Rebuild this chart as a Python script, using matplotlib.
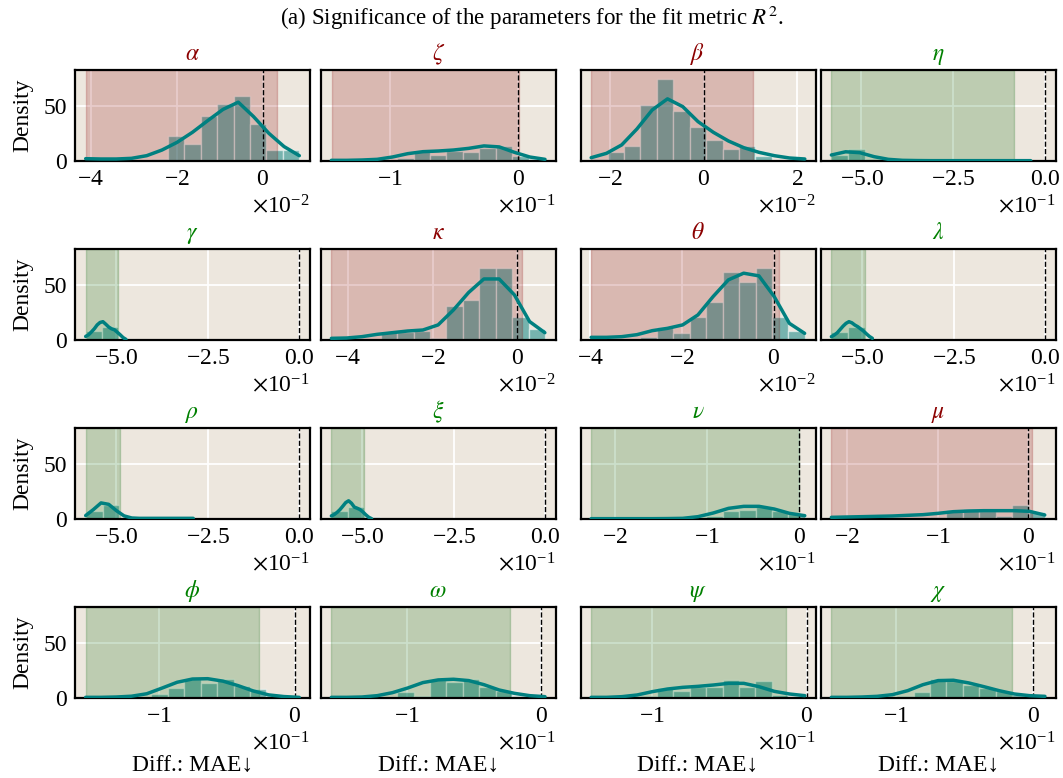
import matplotlib.pyplot as plt
import numpy as np

plt.rcParams['font.family'] = ['Liberation Serif', 'DejaVu Serif']
plt.rcParams['mathtext.fontset'] = 'stix'
plt.rcParams['font.size'] = 17

# parameters, one panel each (row by row)
params = [r'$\alpha$', r'$\zeta$', r'$\beta$', r'$\eta$',
          r'$\gamma$', r'$\kappa$', r'$\theta$', r'$\lambda$',
          r'$\rho$', r'$\xi$', r'$\nu$', r'$\mu$',
          r'$\phi$', r'$\omega$', r'$\psi$', r'$\chi$']
# red = significant and worse, green = significant and better
verdict = ['red', 'red', 'red', 'green',
           'green', 'red', 'red', 'green',
           'green', 'green', 'green', 'red',
           'green', 'green', 'green', 'green']
# x values below are given in units of 10**exponent
exponent = [-2, -1, -2, -1,
            -1, -2, -2, -1,
            -1, -1, -1, -1,
            -1, -1, -1, -1]

# histogram: first bin edge, bin width, bar densities
bin_start = [-4.12, -1.456, -2.41, -5.82,
             -5.84, -4.39, -3.98, -5.84,
             -5.84, -5.85, -2.26, -2.17,
             -1.54, -1.56, -1.39, -1.467]
bin_width = [0.3823, 0.128, 0.3515, 0.4525,
             0.445, 0.388, 0.358, 0.465,
             0.46, 0.445, 0.1785, 0.181,
             0.121, 0.1223, 0.106, 0.1195]
bar_heights = [
    [1.5, 0.5, 0.5, 0.5, 1.8, 22.9, 15.1, 41.0, 51.2, 59.0, 33.1, 9.6, 9.6],
    [0.3, 0.2, 0.5, 1.0, 3.0, 9.0, 5.4, 9.0, 8.4, 12.0, 13.9, 4.8, 2.0],
    [1.5, 7.8, 13.9, 50.6, 73.8, 45.2, 31.0, 19.0, 10.5, 13.9, 4.8, 0.5, 0.8],
    [5.4, 10.8, 1.5, 0.5, 0.3, 0.3, 0.2, 0.2, 0.2, 0.2, 0.2, 0.3],
    [7.9, 12.0, 0.8],
    [0.6, 0.3, 0.8, 6.9, 6.9, 8.1, 2.1, 31.0, 36.0, 64.8, 64.8, 20.5, 9.6],
    [0.3, 0.3, 0.5, 2.4, 12.0, 6.0, 21.0, 34.6, 61.7, 52.7, 64.8, 20.5, 8.4],
    [7.5, 12.0, 0.5],
    [6.9, 12.6, 0.6, 0.2, 0.2, 0.2, 0.2],
    [6.9, 10.7, 1.6],
    [0.2, 0.1, 0.1, 0.2, 0.3, 0.5, 1.0, 3.0, 6.9, 8.1, 10.5, 7.5, 4.5],
    [0.3, 0.2, 0.3, 0.5, 0.6, 1.0, 1.5, 8.1, 9.0, 7.5, 3.0, 12.9, 6.0],
    [0.2, 0.2, 0.3, 0.5, 4.0, 8.9, 17.4, 13.6, 17.4, 11.0, 8.2, 1.6, 0.5],
    [0.2, 0.2, 0.3, 0.5, 5.7, 2.1, 16.6, 14.2, 17.2, 9.6, 6.6, 2.1, 0.5],
    [0.2, 0.3, 0.5, 2.0, 9.0, 6.0, 9.6, 10.2, 16.6, 10.2, 15.0, 3.0, 0.5],
    [0.2, 0.2, 0.3, 0.5, 2.1, 5.7, 17.2, 15.7, 12.0, 9.0, 6.6, 2.7, 1.0],
]

kde_start = [-4.12, -1.456, -2.41, -5.82,
             -5.84, -4.39, -3.98, -5.84,
             -5.84, -5.85, -2.26, -2.17,
             -1.54, -1.56, -1.39, -1.467]
kde_end = [0.85, 0.208, 2.16, -0.39,
           -4.74, 0.65, 0.67, -4.72,
           -2.9, -4.75, 0.06, 0.18,
           0.032, 0.03, -0.011, 0.086]
kde_density = [
    [2.1, 1.8, 1.8, 2.4, 4.8, 9.9, 16.9, 25.9, 36.4, 46.5, 53.0, 40.0, 25.0, 13.0, 4.8],
    [0.6, 0.6, 0.9, 1.5, 3.6, 6.6, 8.4, 9.0, 9.9, 11.4, 13.6, 12.7, 7.8, 3.6, 1.5],
    [3.0, 6.9, 14.5, 28.9, 46.0, 56.0, 49.0, 35.5, 25.9, 18.0, 12.0, 7.8, 4.8, 2.7, 1.8],
    [5.4, 8.3, 7.5, 3.9, 1.5, 0.6, 0.4, 0.3, 0.3, 0.3, 0.3, 0.3, 0.3, 0.3, 0.3],
    [3.2, 4.7, 7.3, 10.1, 13.6, 15.8, 16.5, 14.2, 11.7, 10.1, 9.2, 7.0, 4.7, 2.2, 0.6],
    [1.5, 1.8, 3.0, 5.1, 6.6, 8.1, 9.0, 13.6, 27.0, 42.8, 55.0, 55.0, 40.7, 16.6, 6.6],
    [2.4, 2.4, 3.0, 4.8, 8.4, 10.5, 13.6, 22.6, 39.2, 54.2, 60.2, 57.8, 39.2, 15.0, 6.0],
    [3.0, 4.5, 6.5, 9.5, 12.5, 15.0, 16.5, 15.5, 13.5, 12.0, 10.0, 8.0, 5.5, 3.2, 1.5],
    [3.1, 8.5, 14.5, 13.2, 7.5, 2.8, 0.9, 0.6, 0.6, 0.6, 0.6, 0.6, 0.6, 0.6, 0.6],
    [2.8, 4.0, 6.0, 8.5, 11.6, 14.8, 16.4, 14.2, 10.7, 9.7, 8.5, 6.3, 3.8, 1.6, 0.3],
    [0.3, 0.3, 0.3, 0.3, 0.3, 0.4, 0.6, 2.1, 5.4, 9.6, 11.4, 11.4, 9.0, 5.1, 3.0],
    [1.5, 1.8, 2.1, 2.4, 2.7, 3.3, 3.9, 5.1, 6.6, 7.2, 7.5, 7.5, 7.5, 6.9, 3.6],
    [0.6, 0.6, 0.9, 1.6, 3.8, 8.9, 14.2, 17.1, 17.4, 15.2, 11.1, 6.3, 2.8, 1.3, 0.6],
    [0.6, 0.6, 0.9, 2.1, 4.8, 9.0, 13.9, 16.3, 16.9, 15.7, 12.0, 7.2, 4.2, 2.1, 1.2],
    [0.6, 0.6, 1.2, 2.7, 5.7, 8.1, 9.6, 10.5, 11.7, 13.2, 13.2, 10.2, 6.0, 3.6, 2.1],
    [0.6, 0.6, 0.9, 1.5, 3.0, 6.6, 12.0, 15.7, 16.0, 13.6, 10.2, 6.6, 3.6, 2.1, 1.5],
]

# shaded interval
span_lo = [-4.11, -1.45, -2.41, -5.82,
           -5.84, -4.39, -3.98, -5.84,
           -5.84, -5.85, -2.26, -2.17,
           -1.54, -1.56, -1.39, -1.467]
span_hi = [0.34, 0.005, 1.05, -0.845,
           -4.95, 0.12, 0.11, -4.91,
           -4.89, -4.95, 0.0, 0.045,
           -0.263, -0.23, -0.13, -0.152]

W, H = 1063, 778
fig = plt.figure(figsize=(W / 100, H / 100), dpi=100)
col_left = [75, 320.7, 580.5, 820.7]
row_top = [70, 249, 428, 607]
ax_w, ax_h = 235, 91

for i in range(16):
    r, c = divmod(i, 4)
    ax = fig.add_axes([col_left[c] / W, 1 - (row_top[r] + ax_h) / H, ax_w / W, ax_h / H])
    ax.set_facecolor('#ede7de')
    ax.set_axisbelow(True)
    ax.grid(True, color='white', lw=1.3)

    scale = 10.0 ** exponent[i]
    h = np.array(bar_heights[i])
    left = (bin_start[i] + bin_width[i] * np.arange(len(h))) * scale
    ax.bar(left, h, width=bin_width[i] * scale, align='edge', color='teal',
           alpha=0.5, edgecolor='white', lw=1, zorder=2)

    span_c = 'darkred' if verdict[i] == 'red' else 'darkgreen'
    ax.axvspan(span_lo[i] * scale, span_hi[i] * scale, color=span_c, alpha=0.2, zorder=2.5)

    kx = np.linspace(kde_start[i], kde_end[i], len(kde_density[i])) * scale
    ax.plot(kx, kde_density[i], color='teal', lw=2.5, zorder=4, solid_capstyle='round')
    ax.axvline(0, color='black', lw=1, ls='--', zorder=3)

    ax.set_ylim(0, 82)
    ax.set_yticks([0, 50])
    ax.ticklabel_format(axis='x', style='sci', scilimits=(0, 0), useMathText=True)
    ax.xaxis.get_offset_text().set_fontsize(17)
    ax.tick_params(length=0, pad=6, labelsize=17, labelleft=(c == 0))
    for s in ax.spines.values():
        s.set_linewidth(1.6)
        s.set_color('black')

    title_c = 'darkred' if verdict[i] == 'red' else 'green'
    ax.set_title(params[i], color=title_c, fontsize=17, pad=7)
    if c == 0:
        ax.set_ylabel('Density', fontsize=17, labelpad=7)
    if r == 3:
        ax.set_xlabel('Diff.: MAE↓', fontsize=17, labelpad=20)

fig.text(0.5, 1 - 18 / H, '(a) Significance of the parameters for the fit metric $R^2$.',
         ha='center', va='center', fontsize=16.5)

plt.savefig('out.png', dpi=100)
